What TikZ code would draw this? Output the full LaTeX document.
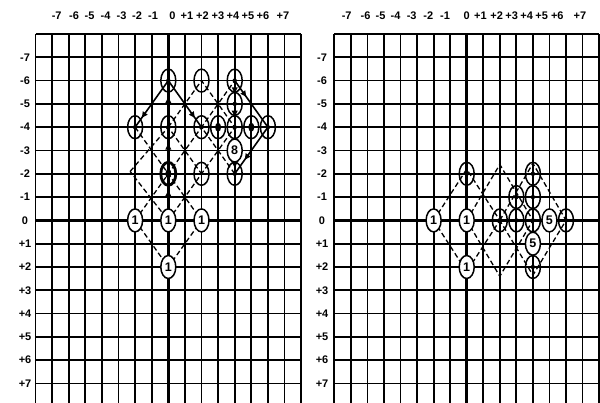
\documentclass[tikz,border=0pt]{standalone}
\usepackage{fontspec}
\setmainfont{Liberation Sans}
\usetikzlibrary{shapes.geometric,decorations.markings,arrows.meta}
\pgfdeclarelayer{gridlayer}
\pgfdeclarelayer{linelayer}
\pgfsetlayers{gridlayer,linelayer,main}
\tikzset{
 gridline/.style={line width=1.8pt},
 axisline/.style={line width=3.2pt},
 dline/.style={dash pattern=on 5pt off 3pt, line width=1.3pt},
 sline/.style={line width=1.6pt},
 bub/.style={ellipse, draw, line width=1.5pt, minimum width=15pt, minimum height=23pt, inner sep=0pt},
 numbub/.style={bub, fill=white, font=\fontsize{12.5}{13}\selectfont\bfseries},
 opnbub/.style={bub},
 arrowat/.style={postaction={decorate}, decoration={markings, mark=at position #1 with {\arrow{Triangle[length=6pt,width=5.5pt]}}}},
 lab/.style={font=\fontsize{11}{12}\selectfont\bfseries, inner sep=0pt},
}
\begin{document}
\begin{tikzpicture}
\useasboundingbox (0,0) rectangle (600pt,-403pt);
\begin{pgfonlayer}{gridlayer}
\fill[white] (0,0) rectangle (600pt,-403pt);
\end{pgfonlayer}
% top labels
\foreach \x/\t [count=\k] in {56.7/-7,74/-6,89.5/-5,105.5/-4,121.5/-3,137/-2,153/-1,172.5/0,187/+1,202.5/+2,218/+3,233/+4,248/+5,263/+6,283/+7}
  \node[lab] (TL\k) at (\x pt,-16pt) {\t};
\foreach \x/\t [count=\k] in {346.7/-7,365.5/-6,380.5/-5,395.5/-4,411.7/-3,428.3/-2,445/-1,466.7/0,480.5/+1,496.7/+2,511.7/+3,526.7/+4,541.7/+5,557.3/+6,580/+7}
  \node[lab] (TR\k) at (\x pt,-16pt) {\t};
% ================= LEFT PANEL =================
\begin{scope}[shift={(168.3pt,-220.4pt)}, x=16.6pt, y=-23.3pt]
\begin{pgfonlayer}{gridlayer}
 \foreach \i in {-8,...,8} \draw[gridline] (\i,-8) -- (\i,7.95);
 \foreach \j in {-8,...,7} \draw[gridline] (-8,\j) -- (8,\j);
 \draw[axisline] (0,-8) -- (0,7.95);
 \draw[axisline] (-8,0) -- (8,0);
\end{pgfonlayer}
\foreach \j/\t in {-7/-7,-6/-6,-5/-5,-4/-4,-3/-3,-2/-2,-1/-1,0/0,1/+1,2/+2,3/+3,4/+4,5/+5,6/+6,7/+7}
  \node[lab] (LL\j) at (-8.63,\j) {\t};
% bubbles
\node[numbub] (Lcm20) at (-2,0) {1};
\node[numbub] (Lc00) at (0,0) {1};
\node[numbub] (Lc20) at (2,0) {1};
\node[numbub] (Lc02) at (0,2) {1};
\node[opnbub] (Lc0m6) at (0,-6) {};
\node[opnbub] (Lc2m6) at (2,-6) {};
\node[opnbub] (Lc4m6) at (4,-6) {};
\node[opnbub] (Lc4m5) at (4,-5) {};
\node[opnbub] (Lcm2m4) at (-2,-4) {};
\node[opnbub] (Lc0m4) at (0,-4) {};
\node[opnbub] (Lc2m4) at (2,-4) {};
\node[opnbub] (Lc3m4) at (3,-4) {};
\node[opnbub] (Lc4m4) at (4,-4) {};
\node[opnbub] (Lc5m4) at (5,-4) {};
\node[opnbub] (Lc6m4) at (6,-4) {};
\node[numbub] (Lc4m3) at (4,-3) {8};
\node[opnbub, line width=2.8pt] (Lc0m2) at (0,-2) {};
\node[opnbub] (Lc2m2) at (2,-2) {};
\node[opnbub] (Lc4m2) at (4,-2) {};
\foreach \n in {Lc0m6,Lc4m6,Lc4m5,Lcm2m4,Lc0m4,Lc2m4,Lc4m4,Lc6m4,Lc4m2}
  \fill (\n.center) circle (2.2pt);
\foreach \n in {Lc3m4,Lc5m4,Lc0m2}
  \fill (\n.center) ellipse (3pt and 4.5pt);
\begin{pgfonlayer}{linelayer}
 \coordinate (LaW) at (-2.3,-2.1);
 % lower diamond
 \draw[dline] (Lcm20.center) -- (Lc0m2.center) -- (Lc20.center) -- (Lc02.center) -- cycle;
 % diamond around (0,-2)
 \draw[dline] (LaW) -- (Lc0m4.center) -- (Lc2m2.center) -- (Lc00.center) -- cycle;
 % diamond around (0,-4)
 \draw[sline, arrowat=0.8] (Lc0m6.center) -- (Lcm2m4.center);
 \draw[sline, arrowat=0.8] (Lc0m6.center) -- (Lc2m4.center);
 \draw[dline] (Lcm2m4.center) -- (Lc0m2.center) -- (Lc2m4.center);
 % diamond around (2,-4)
 \draw[dline] (Lc0m4.center) -- (Lc2m6.center) -- (Lc4m4.center) -- (Lc2m2.center);
 % diamond around (4,-4)
 \draw[dline] (Lc4m2.center) -- (Lc2m4.center) -- (Lc4m6.center);
 \draw[sline, arrowat=0.35] (Lc4m6.center) -- (Lc6m4.center);
 \draw[sline, arrowat=0.7] (Lc6m4.center) -- (Lc4m2.center);
 % arrows on the axis and column 4
 \draw[sline, arrowat=0.65] (Lc00.center) -- (Lc0m2.center);
 \draw[sline, arrowat=0.65] (Lc0m2.center) -- (Lc0m4.center);
 \draw[sline, arrowat=0.65] (Lc0m4.center) -- (Lc0m6.center);
 \draw[sline, arrowat=0.55] (Lc4m6.center) -- (Lc4m5.center);
 \draw[sline, arrowat=0.55] (Lc4m5.center) -- (Lc4m4.center);
 \draw[sline, arrowat=0.75] (Lc4m3.center) -- (Lc4m2.center);
\end{pgfonlayer}
\end{scope}
% ================= RIGHT PANEL =================
\begin{scope}[shift={(466.7pt,-220.4pt)}, x=16.55pt, y=-23.3pt]
\begin{pgfonlayer}{gridlayer}
 \foreach \i in {-8,...,8} \draw[gridline] (\i,-8) -- (\i,7.95);
 \foreach \j in {-8,...,7} \draw[gridline] (-8,\j) -- (8,\j);
 \draw[axisline] (0,-8) -- (0,7.95);
 \draw[axisline] (-8,0) -- (8,0);
\end{pgfonlayer}
\foreach \j/\t in {-7/-7,-6/-6,-5/-5,-4/-4,-3/-3,-2/-2,-1/-1,0/0,1/+1,2/+2,3/+3,4/+4,5/+5,6/+6,7/+7}
  \node[lab] (RL\j) at (-8.74,\j) {\t};
\node[numbub] (Rcm20) at (-2,0) {1};
\node[numbub] (Rc00) at (0,0) {1};
\node[numbub] (Rc02) at (0,2) {1};
\node[opnbub] (Rc0m2) at (0,-2) {};
\node[opnbub] (Rc20) at (2,0) {};
\node[opnbub] (Rc30) at (3,0) {};
\node[opnbub] (Rc40) at (4,0) {};
\node[numbub] (Rc50) at (5,0) {5};
\node[opnbub] (Rc60) at (6,0) {};
\node[opnbub] (Rc3m1) at (3,-1) {};
\node[opnbub] (Rc4m1) at (4,-1) {};
\node[opnbub] (Rc4m2) at (4,-2) {};
\node[numbub] (Rc41) at (4,1) {5};
\node[opnbub] (Rc42) at (4,2) {};
\foreach \n in {Rc0m2,Rc20,Rc30,Rc40,Rc60,Rc3m1,Rc4m1,Rc4m2,Rc42}
  \fill (\n.center) circle (2.2pt);
\begin{pgfonlayer}{linelayer}
 \coordinate (R1N) at (0,-2.2);
 \coordinate (R1S) at (0,2.2);
 \coordinate (R2N) at (2,-2.4);
 \coordinate (R2S) at (2,2.4);
 \coordinate (R3N) at (4,-2.45);
 \coordinate (R3S) at (4,2.35);
 \draw[dline] (Rcm20.center) -- (R1N) -- (Rc20.center) -- (R1S) -- cycle;
 \draw[dline] (Rc00.center) -- (R2N) -- (Rc40.center) -- (R2S) -- cycle;
 \draw[dline] (Rc20.center) -- (R3N) -- (Rc60.center) -- (R3S) -- cycle;
\end{pgfonlayer}
\end{scope}
\end{tikzpicture}
\end{document}
